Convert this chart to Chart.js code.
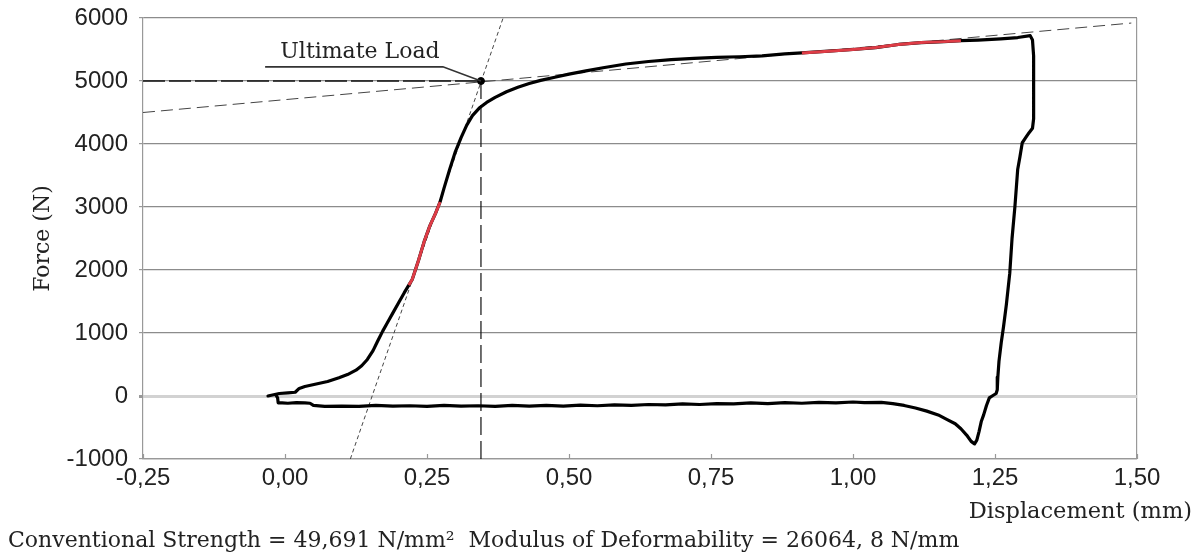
<!DOCTYPE html>
<html>
<head>
<meta charset="utf-8">
<script src="https://cdn.jsdelivr.net/npm/chart.js@4.4.1/dist/chart.umd.min.js"></script>
<style>
html,body{margin:0;padding:0;background:#fff;}
#wrap{width:1199px;height:555px;position:relative;}
</style>
</head>
<body>
<div id="wrap"><canvas id="c"></canvas></div>
<script>
// ---- tick labels ----
const xTickValues = [-0.25, 0, 0.25, 0.5, 0.75, 1.0, 1.25, 1.5];
const xTickLabels = ['-0,25', '0,00', '0,25', '0,50', '0,75', '1,00', '1,25', '1,50'];
const yTickValues = [-1000, 0, 1000, 2000, 3000, 4000, 5000, 6000];
const yTickLabels = ['-1000', '0', '1000', '2000', '3000', '4000', '5000', '6000'];

// ---- main force-displacement loop (black) ----
const curveX = [
  -0.030, -0.020, -0.010, 0.005, 0.018, 0.025, 0.035, 0.055, 0.075, 0.095, 0.110, 0.125, 0.135, 0.145,
  0.155, 0.163, 0.172, 0.180, 0.190, 0.200, 0.210, 0.218, 0.224, 0.235, 0.245, 0.255, 0.265, 0.273,
  0.280, 0.290, 0.300, 0.310, 0.320, 0.330, 0.342, 0.355, 0.370, 0.390, 0.410, 0.430, 0.450, 0.475,
  0.500, 0.530, 0.560, 0.600, 0.640, 0.680, 0.720, 0.760, 0.800, 0.840, 0.880, 0.910, 0.950, 1.000,
  1.040, 1.080, 1.120, 1.160, 1.190, 1.220, 1.260, 1.290, 1.312, 1.316, 1.318, 1.318, 1.318, 1.318,
  1.316, 1.310, 1.304, 1.298, 1.294, 1.290, 1.285, 1.280, 1.276, 1.270, 1.265, 1.261, 1.257, 1.255,
  1.254, 1.252, 1.245, 1.240, 1.235, 1.230, 1.226, 1.222, 1.218, 1.214, 1.208, 1.200, 1.190, 1.180,
  1.165, 1.150, 1.130, 1.110, 1.090, 1.070, 1.050, 1.020, 1.000, 0.970, 0.940, 0.910, 0.880, 0.850,
  0.820, 0.790, 0.760, 0.730, 0.700, 0.670, 0.640, 0.610, 0.580, 0.550, 0.520, 0.490, 0.460, 0.430,
  0.400, 0.370, 0.340, 0.310, 0.280, 0.250, 0.220, 0.190, 0.160, 0.130, 0.100, 0.070, 0.050, 0.044,
  0.035, 0.020, 0.005, -0.005, -0.012, -0.013, -0.015
];
const curveY = [
  0, 20, 40, 50, 60, 120, 150, 190, 230, 290, 340, 410, 480, 580,
  720, 870, 1030, 1160, 1320, 1480, 1640, 1760, 1850, 2150, 2450, 2700, 2900, 3080,
  3300, 3600, 3880, 4100, 4300, 4450, 4570, 4660, 4740, 4830, 4900, 4960, 5010, 5060,
  5110, 5160, 5210, 5270, 5310, 5340, 5360, 5375, 5385, 5400, 5430, 5445, 5470, 5500,
  5530, 5580, 5610, 5625, 5640, 5650, 5670, 5690, 5720, 5650, 5400, 5000, 4700, 4400,
  4250, 4180, 4100, 4020, 3800, 3600, 3000, 2500, 1950, 1450, 1100, 850, 550, 300,
  100, 40, 0, -30, -150, -300, -400, -560, -700, -760, -720, -620, -520, -440,
  -370, -300, -240, -190, -150, -120, -100, -105, -95, -110, -100, -115, -105, -120,
  -110, -125, -120, -135, -125, -140, -135, -150, -140, -155, -145, -160, -150, -160,
  -150, -165, -155, -160, -150, -165, -155, -160, -150, -165, -160, -165, -150, -115,
  -110, -105, -115, -110, -110, -30, 0
];

// ---- highlighted (red) fitting ranges ----
const redAX = [0.218, 0.224, 0.235, 0.245, 0.255, 0.265, 0.273];
const redAY = [1760, 1850, 2150, 2450, 2700, 2900, 3080];
const redBX = [0.910, 0.950, 1.000, 1.040, 1.080, 1.120, 1.160, 1.190];
const redBY = [5445, 5470, 5500, 5530, 5580, 5610, 5625, 5640];

// ---- construction lines ----
const plasticLineX = [-0.25, 1.49];
const plasticLineY = [4500, 5920];
const elasticLineX = [0.115, 0.384];
const elasticLineY = [-1000, 6000];
const ultimateX = 0.345;
const ultimateY = 5000;
const hDashX = [-0.25, ultimateX];
const hDashY = [ultimateY, ultimateY];
const vDashX = [ultimateX, ultimateX];
const vDashY = [ultimateY, -1000];

const zip = (xs, ys) => xs.map((x, i) => ({x: x, y: ys[i]}));

const serif = "'DejaVu Serif', serif";
const sans = "'Liberation Sans', Arial, sans-serif";
const textColor = '#222';

const extras = {
  id: 'extras',
  beforeDatasetsDraw(chart) {
    const {ctx, scales: {x}, chartArea} = chart;
    ctx.save();
    ctx.strokeStyle = '#999';
    ctx.lineWidth = 1.2;
    ctx.beginPath();
    x.ticks.forEach(t => {
      const px = Math.round(x.getPixelForValue(t.value)) + 0.5;
      ctx.moveTo(px, chartArea.bottom);
      ctx.lineTo(px, chartArea.bottom - 5);
    });
    ctx.stroke();
    ctx.restore();
  },
  afterDatasetsDraw(chart) {
    const {ctx, scales: {x, y}} = chart;
    ctx.save();
    // leader for "Ultimate Load"
    const px = x.getPixelForValue(ultimateX), py = y.getPixelForValue(ultimateY);
    const uy = y.getPixelForValue(5225);
    ctx.strokeStyle = '#333';
    ctx.lineWidth = 1.6;
    ctx.beginPath();
    ctx.moveTo(x.getPixelForValue(-0.035), uy);
    ctx.lineTo(x.getPixelForValue(0.278), uy);
    ctx.lineTo(px, py);
    ctx.stroke();
    ctx.fillStyle = textColor;
    ctx.font = "22px " + serif;
    ctx.textAlign = 'center';
    ctx.textBaseline = 'alphabetic';
    ctx.fillText('Ultimate Load', x.getPixelForValue(0.132), y.getPixelForValue(5370));
    // x axis title (right aligned, beyond plot)
    ctx.textAlign = 'right';
    ctx.textBaseline = 'middle';
    ctx.font = "22.5px " + serif;
    ctx.fillText('Displacement (mm)', 1192, 512);
    // bottom caption
    ctx.textAlign = 'left';
    ctx.font = "22px " + serif;
    ctx.fillText('Conventional Strength = 49,691 N/mm\u00B2  Modulus of Deformability = 26064, 8 N/mm', 8, 541);
    ctx.restore();
  }
};

new Chart(document.getElementById('c'), {
  type: 'scatter',
  data: {
    datasets: [
      {data: zip(plasticLineX, plasticLineY), showLine: true, borderColor: '#444', borderWidth: 1, borderDash: [12, 6], pointRadius: 0, order: 5},
      {data: zip(elasticLineX, elasticLineY), showLine: true, borderColor: '#444', borderWidth: 1, borderDash: [4, 3], pointRadius: 0, order: 5},
      {data: zip(hDashX, hDashY), showLine: true, borderColor: '#111', borderWidth: 1.5, borderDash: [22, 4], pointRadius: 0, order: 4},
      {data: zip(vDashX, vDashY), showLine: true, borderColor: '#111', borderWidth: 1.2, borderDash: [18, 6], pointRadius: 0, order: 4},
      {data: zip(curveX, curveY), showLine: true, borderColor: '#000', borderWidth: 3.2, borderJoinStyle: 'round', borderCapStyle: 'round', pointRadius: 0, tension: 0, order: 3},
      {data: zip(redAX, redAY), showLine: true, borderColor: 'rgb(222,60,70)', borderWidth: 3, pointRadius: 0, order: 2},
      {data: zip(redBX, redBY), showLine: true, borderColor: 'rgb(222,60,70)', borderWidth: 3, pointRadius: 0, order: 2},
      {data: [{x: ultimateX, y: ultimateY}], pointRadius: 3.5, pointBackgroundColor: '#000', pointBorderColor: '#000', order: 1}
    ]
  },
  options: {
    responsive: true,
    maintainAspectRatio: false,
    animation: false,
    events: [],
    layout: {padding: {left: 0, right: 62, top: 18, bottom: 0}},
    plugins: {legend: {display: false}, tooltip: {enabled: false}},
    scales: {
      x: {
        type: 'linear', min: -0.25, max: 1.5,
        afterBuildTicks: s => { s.ticks = xTickValues.map(v => ({value: v})); },
        afterFit: s => { s.height = 96; s.paddingLeft = 0; s.paddingRight = 0; },
        ticks: {
          callback: (v, i) => xTickLabels[i],
          font: {family: sans, size: 24}, color: textColor, padding: 5, maxRotation: 0, autoSkip: false
        },
        grid: {
          drawOnChartArea: true, drawTicks: false,
          color: c => (c.tick && c.tick.value === 1.5) ? '#999' : 'rgba(0,0,0,0)', lineWidth: 1.2
        },
        border: {display: true, color: '#999', width: 1.2}
      },
      y: {
        type: 'linear', min: -1000, max: 6000,
        afterBuildTicks: s => { s.ticks = yTickValues.map(v => ({value: v})); },
        afterFit: s => { s.width = 143; s.paddingTop = 0; s.paddingBottom = 0; },
        ticks: {
          callback: (v, i) => yTickLabels[i],
          font: {family: sans, size: 24}, color: textColor, padding: 11, autoSkip: false
        },
        grid: {
          drawTicks: true, tickLength: 4, tickColor: '#999',
          color: c => (c.tick && c.tick.value === 0) ? '#d2d2d2' : '#8c8c8c',
          lineWidth: c => (c.tick && c.tick.value === 0) ? 3 : 1.2
        },
        border: {display: true, color: '#999', width: 1.2},
        title: {display: true, text: 'Force (N)', font: {family: serif, size: 22}, color: textColor, padding: {top: 30, bottom: 0}}
      }
    }
  },
  plugins: [extras]
});
</script>
</body>
</html>
